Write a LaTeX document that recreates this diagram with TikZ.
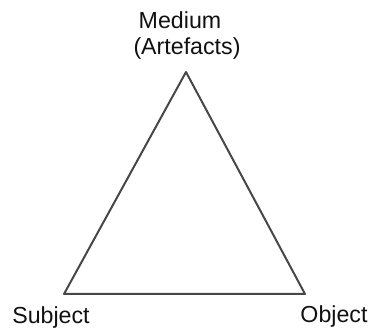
\documentclass[tikz,border=0pt]{standalone}
\usepackage{fontspec}
\setmainfont{Liberation Sans}
\usetikzlibrary{positioning, calc}
\definecolor{edgegray}{HTML}{474747}
\definecolor{txtblack}{HTML}{111111}

\begin{document}
\begin{tikzpicture}[
    x=0.75pt, y=-0.75pt,
    edge/.style={draw=edgegray, line width=1.5pt, line join=round},
    lbl/.style={text=txtblack, font=\fontsize{17.4}{20}\selectfont,
                inner sep=0pt, align=center},
  ]
  \useasboundingbox (0,0) rectangle (368,331);

  % ---- corners of the triangle ----
  \coordinate (medium) at (186,72);
  \coordinate (subject) at (64,294);
  \coordinate (object) at (305,294);

  % ---- sides ----
  \draw[edge] (subject) -- (medium) -- (object) -- cycle;

  % ---- corner labels ----
  \node[lbl] (artefactslbl) at (187,48) {(Artefacts)};
  \node[lbl] (mediumlbl) at (180,20) {Medium};
  \node[lbl] (subjectlbl) at (51,318) {Subject};
  \node[lbl] (objectlbl) at (334,317) {Object};
\end{tikzpicture}
\end{document}
